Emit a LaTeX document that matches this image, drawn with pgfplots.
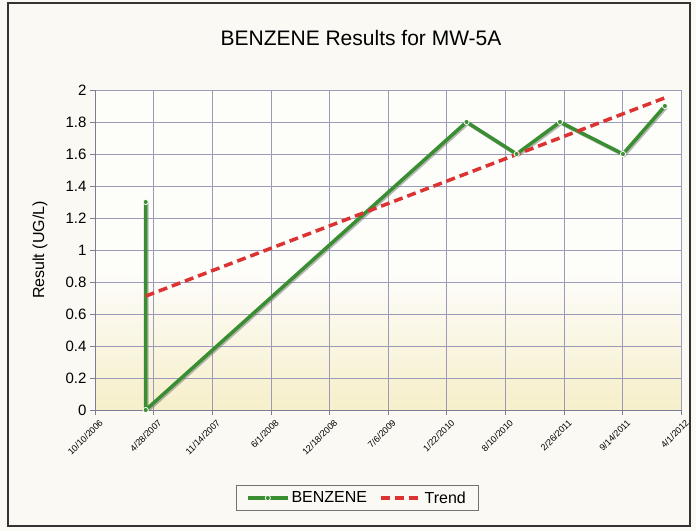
\documentclass[border=0pt]{standalone}
\usepackage{pgfplots}
\pgfplotsset{compat=1.18}
\usepackage{fontspec}
\setmainfont{Liberation Sans}
\definecolor{paper}{RGB}{250,249,243}
\definecolor{band}{RGB}{246,239,202}
\definecolor{benz}{RGB}{58,142,50}
\definecolor{trend}{RGB}{220,50,50}
\definecolor{gridc}{RGB}{155,155,185}
\begin{document}
\begin{tikzpicture}[x=1pt,y=1pt]
\begin{axis}[
  set layers,
  at={(95pt,121pt)}, anchor=south west, scale only axis,
  width=586pt, height=320pt,
  xmin=0, xmax=2000, ymin=0, ymax=2,
  xtick={0,200,400,600,800,1000,1200,1400,1600,1800,2000},
  xticklabels={10/10/2006,4/28/2007,11/14/2007,6/1/2008,12/18/2008,7/6/2009,1/22/2010,8/10/2010,2/26/2011,9/14/2011,4/1/2012},
  ytick={0,0.2,0.4,0.6,0.8,1,1.2,1.4,1.6,1.8,2},
  yticklabels={0,0.2,0.4,0.6,0.8,1,1.2,1.4,1.6,1.8,2},
  grid=major,
  major grid style={gridc, line width=0.6pt},
  axis lines*=left,
  axis line style={gridc!80!black, line width=0.8pt},
  tick align=outside, major tick length=5pt,
  tick style={gridc!80!black, line width=0.6pt},
  xticklabel style={rotate=45, anchor=east, font=\fontsize{9}{10}\selectfont, inner sep=1pt, yshift=-9pt, xshift=1pt},
  yticklabel style={font=\fontsize{15}{17}\selectfont},
  /pgf/number format/assume math mode=true,
  ylabel={Result (UG/L)},
  ylabel style={at={(axis description cs:-0.094,0.5)}, anchor=center, font=\fontsize{16}{18}\selectfont},
  legend style={at={(axis description cs:0.447,-0.275)}, anchor=center, legend columns=2,
    draw=black!55, fill=paper, font=\fontsize{16}{18}\selectfont,
    /tikz/every even column/.append style={column sep=10pt},
    inner xsep=10pt, inner ysep=4pt},
  legend image code/.code={\draw[#1, mark repeat=2, mark phase=2] plot coordinates {(0pt,0pt) (20pt,0pt) (40pt,0pt)};},
]
\begin{pgfonlayer}{axis background}
\fill[paper] (rel axis cs:-0.1621,-0.37813) rectangle (rel axis cs:1.02560,1.28125);
\fill[white!60!paper] (axis cs:0,0) rectangle (axis cs:2000,2);
\fill[top color=white!60!paper, bottom color=band] (axis cs:0,0) rectangle (axis cs:2000,0.85);
\end{pgfonlayer}
\addplot[forget plot, black!55, opacity=0.5, line width=3.5pt, transform canvas={xshift=1.3pt, yshift=-1.3pt}]
  coordinates {(173,1.3) (173,0) (1268,1.8) (1439,1.6) (1587,1.8) (1802,1.6) (1945,1.9)};
\addplot[benz, line width=3.5pt, mark=*, mark size=2.6pt, mark options={fill=benz, draw=white, line width=0.8pt}]
  coordinates {(173,1.3) (173,0) (1268,1.8) (1439,1.6) (1587,1.8) (1802,1.6) (1945,1.9)};
\addlegendentry{BENZENE}
\addplot[trend, line width=3.5pt, dash pattern=on 9pt off 5pt]
  coordinates {(173,0.712) (1945,1.951)};
\addlegendentry{Trend}
\end{axis}
\draw[black!80, line width=1.2pt] (8,5) rectangle (690,528);
\node[font=\fontsize{21}{24}\selectfont] at (361,493) {BENZENE Results for MW-5A};
\pgfresetboundingbox
\path[use as bounding box] (0,0) rectangle (696,531);
\end{tikzpicture}
\end{document}
